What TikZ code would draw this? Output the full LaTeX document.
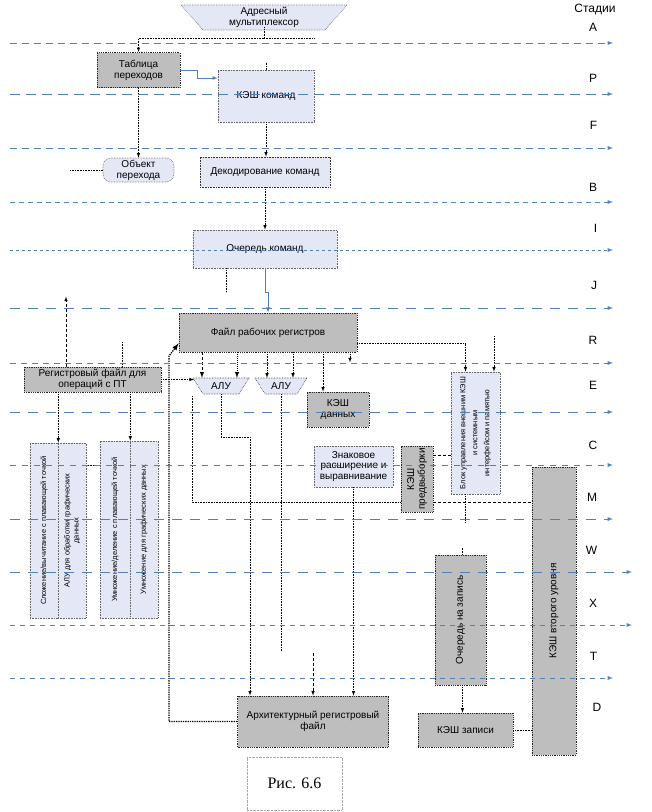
\documentclass[tikz,border=0pt]{standalone}
\usepackage{fontspec}
\setmainfont{Liberation Sans}
\newfontfamily\figfont{Liberation Serif}
\usetikzlibrary{%
  positioning
}
\definecolor{stageblue}{RGB}{79,129,189}
\definecolor{boxgray}{RGB}{190,190,190}
\definecolor{boxlight}{RGB}{228,232,246}
\tikzset{
  stage/.style={draw=stageblue, line width=0.9pt, -latex},
  stagelabel/.style={font=\fontsize{12}{13}\selectfont},
  graybox/.style={draw=black!85, densely dotted, line width=0.8pt, fill=boxgray, align=center, inner sep=1pt},
  lightbox/.style={draw=black!60, densely dotted, line width=0.6pt, fill=boxlight, align=center, inner sep=1pt},
  vtext/.style={rotate=90, align=center, inner sep=0pt},
  link/.style={draw=black, densely dotted, line width=0.6pt},
  dashlink/.style={draw=black, dash pattern=on 3pt off 2pt, line width=0.6pt},
  bus/.style={draw=black, densely dotted, line width=1.3pt},
  feed/.style={draw=stageblue, line width=0.8pt},
}

\begin{document}
\begin{tikzpicture}[x=1pt, y=-1pt, >=latex, font=\fontsize{10}{10.8}\selectfont]
\useasboundingbox (0,0) rectangle (652,812);

%%%fetch part
\filldraw[lightbox] (181,5) -- (347,5) -- (325,30) -- (203,30) -- cycle;
\node[align=center, inner sep=0pt] (mux) at (264,17) {Адресный\\мультиплексор};
\node[graybox, minimum width=83, minimum height=35] (brtab) at (138.5,70) {Таблица\\переходов};
\node[lightbox, minimum width=96, minimum height=52] (icache) at (266,96) {КЭШ команд};
\node[lightbox, rounded corners=8pt, minimum width=71, minimum height=24] (brtgt) at (138.5,170) {Объект\\перехода};
\node[lightbox, draw=black!80, minimum width=130, minimum height=30] (decode) at (265,172) {Декодирование команд};
\node[lightbox, minimum width=144, minimum height=38] (iqueue) at (265,249) {Очередь команд};

%%%integer part
\node[graybox, minimum width=178, minimum height=39] (wregs) at (268,332.5) {Файл рабочих регистров};
\filldraw[lightbox, draw=black!80] (193,378) -- (249,378) -- (239,394) -- (203,394) -- cycle;
\filldraw[lightbox, draw=black!80] (255,378) -- (307,378) -- (297,394) -- (265,394) -- cycle;
\node[minimum width=56, minimum height=16, inner sep=0pt] (alu1) at (221,386) {АЛУ};
\node[minimum width=52, minimum height=16, inner sep=0pt] (alu2) at (281,386) {АЛУ};
\node[graybox, minimum width=62, minimum height=35] (dcache) at (338,409.5) {КЭШ\\данных};
\node[lightbox, minimum width=79, minimum height=41] (sext) at (353.5,466.5) {Знаковое\\расширение и\\выравнивание};
\node[graybox, minimum width=32, minimum height=66] (pfcache) at (417,479) {};
\node[vtext] (pftext) at (pfcache) {КЭШ\\предвыборки};
\node[lightbox, minimum width=49, minimum height=122] (blk) at (475.5,433) {};
\node[vtext, font=\fontsize{7.5}{12}\selectfont] (blktext) at (blk) {Блок управления внешним КЭШ\\и системным\\интерфейсом и памятью};

%%%floating point part
\node[graybox, minimum width=137, minimum height=25] (fpregs) at (92.5,379.5) {Регистровый файл для\\операций с ПТ};
\node[lightbox, minimum width=28, minimum height=175] (fpadd) at (44,530.5) {};
\node[lightbox, minimum width=28, minimum height=175] (gralu) at (72,530.5) {};
\node[lightbox, minimum width=30, minimum height=177] (fpmul) at (115,529.5) {};
\node[lightbox, minimum width=28, minimum height=177] (grmul) at (144,529.5) {};
\node[vtext, font=\fontsize{7.5}{9}\selectfont] (fpaddtext) at (fpadd) {Сложение/вычитание с плавающей точкой};
\node[vtext, font=\fontsize{7.5}{9}\selectfont] (gralutext) at (gralu) {АЛУ для обработки графических\\данных};
\node[vtext, font=\fontsize{7.5}{9}\selectfont] (fpmultext) at (fpmul) {Умножение/деление с плавающей точкой};
\node[vtext, font=\fontsize{7.5}{9}\selectfont] (grmultext) at (grmul) {Умножение для графических данных};

%%%write back part
\node[graybox, minimum width=51, minimum height=130] (stq) at (460.5,620) {};
\node[vtext] (stqtext) at (stq) {Очередь на запись};
\node[graybox, minimum width=44, minimum height=288] (l2) at (554,611) {};
\node[vtext] (l2text) at (l2) {КЭШ второго уровня};
\node[graybox, minimum width=151, minimum height=51] (arch) at (313,721.5) {Архитектурный регистровый\\файл};
\node[graybox, minimum width=95, minimum height=34] (wcache) at (465.5,730) {КЭШ записи};
\node[draw=black!35, densely dotted, minimum width=95, minimum height=53, font=\figfont\fontsize{16}{17}\selectfont] (fig) at (294.5,783.5) {Рис. 6.6};

%%%free ends
\coordinate (muxfork) at (264,38);
\coordinate (muxend) at (314,38);
\coordinate (tgtend) at (70,170);
\coordinate (aluin) at (194,379.5);
\coordinate (loopstart) at (192,396);
\coordinate (archin) at (313,653);
\coordinate (blkin) at (494,336);

%%%fetch connectors
\draw[link] (mux.south) -- (muxfork);
\draw[link,->] (muxfork) -| (brtab.north);
\draw[link] (muxfork) -- (muxend);
\draw[link] (icache.north) -- ++(0,-8);
\draw[feed,->] (brtab.east) -- (197,70) |- ([yshift=18pt]icache.west);
\draw[link,->] (brtab.south) -- (brtgt.north);
\draw[link] (brtgt.west) -- (tgtend);
\draw[link,->] (icache.south) -- (icache.south |- decode.north);
\draw[link,->] (decode.south) -- (iqueue.north);
\draw[feed,->] (iqueue.south) -- ++(0,24) -| (wregs.north);
\draw[link] ([xshift=-39pt]iqueue.south) -- ++(0,24);

%%%register file to units
\draw[dashlink, line width=1pt,->] ([xshift=-19pt]alu1.north |- wregs.south) -- ([xshift=-19pt]alu1.north);
\draw[bus, line width=1pt,->] ([xshift=16pt]alu1.north |- wregs.south) -- ([xshift=16pt]alu1.north);
\draw[link,->] ([xshift=-14pt]alu2.north |- wregs.south) -- ([xshift=-14pt]alu2.north);
\draw[link,->] ([xshift=12pt]alu2.north |- wregs.south) -- ([xshift=12pt]alu2.north);
\draw[link,->] ([xshift=-15pt]dcache.north |- wregs.south) -- ([xshift=-15pt]dcache.north);
\draw[link,->] ([xshift=82pt]wregs.south) -- ++(0,10);
\draw[link,->] ([yshift=-10.5pt]wregs.east) -| ([xshift=-10pt]blk.north);
\draw[link,->] (blkin) -- (blkin |- blk.north);
\draw[bus,->] (arch.west) -| (169,356) -- ([yshift=9pt]wregs.south west);

%%%floating point connectors
\draw[dashlink,->] ([xshift=-26.5pt]fpregs.north) -- ++(0,-70);
\draw[link] ([xshift=30pt]fpregs.north) -- ++(0,-25);
\draw[link,->] (fpregs.east) -- (aluin);
\draw[link,->] (fpadd.north east |- fpregs.south) -- (fpadd.north east);
\draw[link,->] (fpmul.north east |- fpregs.south) -- (fpmul.north east);
\draw[link] ([yshift=65.5pt]gralu.east) -- ([yshift=65.5pt]gralu.east -| fpmul.west);

%%%results
\draw[link,->] (alu1.south) -- ++(0,43) -| ([xshift=-63pt]arch.north);
\draw[link] (alu2.south) -- ++(0,257);
\draw[dashlink,->] (archin) -- (arch.north);
\draw[link,->] (sext.south) -- (sext.south |- arch.north);
\draw[link] (loopstart) |- ([yshift=-23pt]pfcache.west);
\draw[dashlink] ([yshift=-23pt]pfcache.east) -- ([yshift=-23pt]pfcache.east -| l2.west);
\draw[dashlink] ([yshift=24pt]pfcache.east) -- ([yshift=24pt]pfcache.east -| blk.west);
\draw[link] ([xshift=-10pt]blk.south) -- ++(0,28);
\draw[link] ([xshift=2pt]stq.north) -- ++(0,-7);
\draw[link,->] ([xshift=2pt]stq.south) -- ([xshift=2pt]stq.south |- wcache.north);
\draw[link] (wcache.east) -- (wcache.east -| l2.west);

%%%stages
\node[stagelabel] (lhead) at (595,10) {Стадии};
\draw[stage, dash pattern=on 7pt off 5pt] (10,43) -- (613,43) node[stagelabel, pos=1, above left=8pt and 12pt] (lA) {A};
\draw[stage, dash pattern=on 10pt off 6pt] (10,94) -- (613,94) node[stagelabel, pos=1, above left=8pt and 12pt] (lP) {P};
\draw[stage, dash pattern=on 7pt off 5pt] (10,148) -- (613,148) node[stagelabel, pos=1, above left=15pt and 12pt] (lF) {F};
\draw[stage, dash pattern=on 5pt off 4pt] (10,202) -- (613,202) node[stagelabel, pos=1, above left=7pt and 12pt] (lB) {B};
\draw[stage, dash pattern=on 3pt off 3pt] (10,250) -- (613,250) node[stagelabel, pos=1, above left=14pt and 12pt] (lI) {I};
\draw[stage, dash pattern=on 10pt off 8pt] (10,308) -- (613,308) node[stagelabel, pos=1, above left=15pt and 12pt] (lJ) {J};
\draw[stage, dash pattern=on 6pt off 5pt] (10,363) -- (613,363) node[stagelabel, pos=1, above left=15pt and 12pt] (lR) {R};
\draw[stage, dash pattern=on 10pt off 8pt] (10,412) -- (613,412) node[stagelabel, pos=1, above left=19pt and 12pt] (lE) {E};
\draw[stage, dash pattern=on 6pt off 6pt] (10,465) -- (613,465) node[stagelabel, pos=1, above left=12pt and 12pt] (lC) {C};
\draw[stage, dash pattern=on 10pt off 8pt] (10,519) -- (613,519) node[stagelabel, pos=1, above left=14pt and 12pt] (lM) {M};
\draw[stage, dash pattern=on 10pt off 8pt] (10,572) -- (632,572) node[stagelabel, pos=1, above left=14pt and 31pt] (lW) {W};
\draw[stage, dash pattern=on 5pt off 5pt] (10,625) -- (632,625) node[stagelabel, pos=1, above left=14pt and 31pt] (lX) {X};
\draw[stage, dash pattern=on 5pt off 5pt] (10,678) -- (613,678) node[stagelabel, pos=1, above left=14pt and 12pt] (lT) {T};
\node[stagelabel] (lD) at (597,707) {D};

\end{tikzpicture}
\end{document}
